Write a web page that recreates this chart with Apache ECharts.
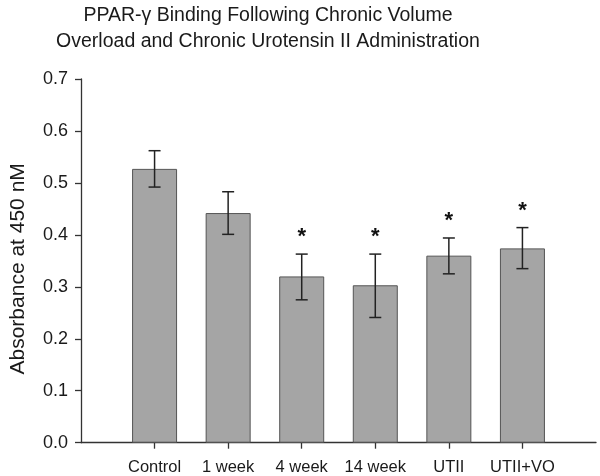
<!DOCTYPE html>
<html>
<head>
<meta charset="utf-8">
<script src="https://cdn.jsdelivr.net/npm/echarts@6/dist/echarts.min.js"></script>
<style>html,body{margin:0;padding:0;background:#fff;}#c{width:600px;height:476px;}</style>
</head>
<body>
<div id="c"></div>
<script>
var categories = ['Control', '1 week', '4 week', '14 week', 'UTII', 'UTII+VO'];
var means = [0.527, 0.442, 0.320, 0.303, 0.360, 0.374];
var errLow = [0.492, 0.401, 0.275, 0.241, 0.325, 0.335];
var errHigh = [0.562, 0.483, 0.363, 0.363, 0.394, 0.414];
var significant = [false, false, true, true, true, true];
var yTicks = [0, 0.1, 0.2, 0.3, 0.4, 0.5, 0.6, 0.7];

var FONT = 'Liberation Sans, Arial, sans-serif';
var axisCats = [''].concat(categories, ['']);
var barData = ['-'].concat(means, ['-']);
var errData = categories.map(function (c, i) {
  return [i + 1, errLow[i], errHigh[i], significant[i] ? 1 : 0];
});

var chart = echarts.init(document.getElementById('c'), null, {renderer: 'canvas'});
chart.setOption({
  animation: false,
  backgroundColor: '#ffffff',
  title: {
    text: 'PPAR-\u03b3 Binding Following Chronic Volume\nOverload and Chronic Urotensin II Administration',
    left: 263, top: -2, textAlign: 'center',
    textStyle: {fontFamily: FONT, fontSize: 19.5, fontWeight: 'normal', color: '#1a1a1a', lineHeight: 26}
  },
  grid: {left: 76, right: 4, top: 79, bottom: 33.3, containLabel: false},
  xAxis: {
    type: 'category', data: axisCats, boundaryGap: false,
    axisLine: {lineStyle: {color: '#333', width: 1.3}},
    axisTick: {length: 6, lineStyle: {color: '#333', width: 1.3},
      interval: function (i) { return i > 0 && i < axisCats.length - 1; }},
    axisLabel: {interval: 0, margin: 16, fontFamily: FONT, fontSize: 16.5, color: '#1a1a1a'},
    splitLine: {show: false}
  },
  yAxis: {
    type: 'value', min: yTicks[0], max: yTicks[yTicks.length - 1], interval: 0.1,
    name: 'Absorbance at 450 nM', nameLocation: 'middle', nameRotate: 90, nameGap: 52,
    nameTextStyle: {fontFamily: FONT, fontSize: 21, color: '#1a1a1a', padding: [0, 16, 0, 0]},
    axisLine: {show: true, lineStyle: {color: '#333', width: 1.3}},
    axisTick: {show: true, length: 6, lineStyle: {color: '#333', width: 1.3}},
    axisLabel: {margin: 13, fontFamily: FONT, fontSize: 18, color: '#1a1a1a',
      formatter: function (v) { return v.toFixed(1); }},
    splitLine: {show: false}
  },
  series: [
    {
      type: 'bar', data: barData, barWidth: 45,
      itemStyle: {color: '#a5a5a5', borderColor: '#555555', borderWidth: 1}
    },
    {
      type: 'custom', data: errData, encode: {x: 0, y: [1, 2]}, z: 5,
      renderItem: function (params, api) {
        var x = api.value(0);
        var lo = api.coord([x, api.value(1)]);
        var hi = api.coord([x, api.value(2)]);
        var hw = 6;
        var st = {stroke: '#222', lineWidth: 1.5};
        var children = [
          {type: 'line', shape: {x1: lo[0], y1: lo[1], x2: hi[0], y2: hi[1]}, style: st},
          {type: 'line', shape: {x1: lo[0] - hw, y1: lo[1], x2: lo[0] + hw, y2: lo[1]}, style: st},
          {type: 'line', shape: {x1: hi[0] - hw, y1: hi[1], x2: hi[0] + hw, y2: hi[1]}, style: st}
        ];
        if (api.value(3)) {
          children.push({type: 'text', x: hi[0], y: hi[1] - 17,
            style: {text: '*', fontFamily: FONT, fontSize: 22, fontWeight: 'bold', fill: '#111',
              align: 'center', verticalAlign: 'middle'}});
        }
        return {type: 'group', children: children};
      }
    }
  ]
});
</script>
</body>
</html>
